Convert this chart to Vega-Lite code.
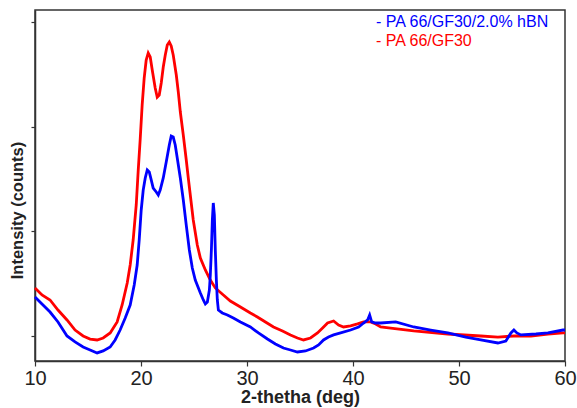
{
  "$schema": "https://vega.github.io/schema/vega-lite/v6.json",
  "autosize": "none",
  "width": 530,
  "height": 351,
  "padding": {"left": 35, "top": 10, "right": 12, "bottom": 47},
  "background": "white",
  "config": {
    "font": "Liberation Sans",
    "view": {"stroke": "#333", "strokeWidth": 1.5},
    "axis": {"grid": false, "domainColor": "#333", "domainWidth": 1.5, "tickColor": "#333", "tickWidth": 1.2, "labelColor": "#222", "titleColor": "#222"}
  },
  "datasets": {
    "red": [
      {"theta": 10.00, "counts": 1459}, {"theta": 10.66, "counts": 1392}, {"theta": 11.42, "counts": 1344}, {"theta": 12.17, "counts": 1248},
      {"theta": 13.02, "counts": 1153}, {"theta": 13.78, "counts": 1057}, {"theta": 14.54, "counts": 1000}, {"theta": 15.20, "counts": 971},
      {"theta": 15.86, "counts": 962}, {"theta": 16.43, "counts": 981}, {"theta": 17.09, "counts": 1029}, {"theta": 17.75, "counts": 1134},
      {"theta": 18.22, "counts": 1296}, {"theta": 18.70, "counts": 1506}, {"theta": 18.98, "counts": 1678}, {"theta": 19.26, "counts": 1917},
      {"theta": 19.55, "counts": 2252}, {"theta": 19.74, "counts": 2586}, {"theta": 19.92, "counts": 2873}, {"theta": 20.11, "counts": 3207},
      {"theta": 20.30, "counts": 3465}, {"theta": 20.49, "counts": 3637}, {"theta": 20.68, "counts": 3704}, {"theta": 20.87, "counts": 3666},
      {"theta": 21.06, "counts": 3541}, {"theta": 21.34, "counts": 3369}, {"theta": 21.53, "counts": 3283}, {"theta": 21.72, "counts": 3303},
      {"theta": 21.91, "counts": 3417}, {"theta": 22.10, "counts": 3570}, {"theta": 22.29, "counts": 3685}, {"theta": 22.48, "counts": 3780},
      {"theta": 22.67, "counts": 3809}, {"theta": 22.85, "counts": 3771}, {"theta": 23.04, "counts": 3685}, {"theta": 23.33, "counts": 3494},
      {"theta": 23.52, "counts": 3331}, {"theta": 23.71, "counts": 3140}, {"theta": 23.99, "counts": 2920}, {"theta": 24.27, "counts": 2682},
      {"theta": 24.46, "counts": 2510}, {"theta": 24.65, "counts": 2347}, {"theta": 24.93, "counts": 2108}, {"theta": 25.31, "counts": 1869},
      {"theta": 25.60, "counts": 1745}, {"theta": 26.07, "counts": 1631}, {"theta": 26.54, "counts": 1535}, {"theta": 27.01, "counts": 1459},
      {"theta": 27.77, "counts": 1392}, {"theta": 28.43, "counts": 1334}, {"theta": 29.38, "counts": 1277}, {"theta": 30.32, "counts": 1220},
      {"theta": 30.98, "counts": 1182}, {"theta": 31.74, "counts": 1134}, {"theta": 32.50, "counts": 1086}, {"theta": 33.35, "counts": 1048},
      {"theta": 34.10, "counts": 1010}, {"theta": 34.76, "counts": 981}, {"theta": 35.33, "counts": 962}, {"theta": 35.99, "counts": 981},
      {"theta": 36.65, "counts": 1029}, {"theta": 37.13, "counts": 1076}, {"theta": 37.60, "counts": 1124}, {"theta": 38.17, "counts": 1143},
      {"theta": 38.64, "counts": 1105}, {"theta": 39.11, "counts": 1086}, {"theta": 39.77, "counts": 1096}, {"theta": 40.43, "counts": 1115},
      {"theta": 41.00, "counts": 1134}, {"theta": 41.66, "counts": 1134}, {"theta": 42.14, "counts": 1115}, {"theta": 42.61, "counts": 1086},
      {"theta": 43.55, "counts": 1076}, {"theta": 45.73, "counts": 1048}, {"theta": 48.94, "counts": 1019}, {"theta": 52.06, "counts": 1000},
      {"theta": 53.67, "counts": 990}, {"theta": 55.18, "counts": 1000}, {"theta": 56.79, "counts": 1000}, {"theta": 58.39, "counts": 1019},
      {"theta": 59.81, "counts": 1029}, {"theta": 60.00, "counts": 1029}
    ],
    "blue": [
      {"theta": 10.00, "counts": 1373}, {"theta": 10.66, "counts": 1306}, {"theta": 11.42, "counts": 1229}, {"theta": 12.17, "counts": 1134},
      {"theta": 13.02, "counts": 1000}, {"theta": 13.78, "counts": 943}, {"theta": 14.54, "counts": 895}, {"theta": 15.20, "counts": 866},
      {"theta": 15.86, "counts": 838}, {"theta": 16.43, "counts": 857}, {"theta": 17.09, "counts": 895}, {"theta": 17.56, "counts": 962},
      {"theta": 18.03, "counts": 1057}, {"theta": 18.51, "counts": 1172}, {"theta": 18.98, "counts": 1296}, {"theta": 19.36, "counts": 1487},
      {"theta": 19.64, "counts": 1678}, {"theta": 19.83, "counts": 1917}, {"theta": 20.02, "counts": 2204}, {"theta": 20.21, "counts": 2395},
      {"theta": 20.40, "counts": 2510}, {"theta": 20.59, "counts": 2586}, {"theta": 20.78, "counts": 2567}, {"theta": 20.97, "counts": 2490},
      {"theta": 21.15, "counts": 2414}, {"theta": 21.44, "counts": 2376}, {"theta": 21.63, "counts": 2347}, {"theta": 21.81, "counts": 2395},
      {"theta": 22.10, "counts": 2510}, {"theta": 22.38, "counts": 2662}, {"theta": 22.67, "counts": 2825}, {"theta": 22.85, "counts": 2911},
      {"theta": 23.04, "counts": 2901}, {"theta": 23.23, "counts": 2825}, {"theta": 23.42, "counts": 2701}, {"theta": 23.71, "counts": 2510},
      {"theta": 23.99, "counts": 2299}, {"theta": 24.27, "counts": 2060}, {"theta": 24.56, "counts": 1822}, {"theta": 24.84, "counts": 1650},
      {"theta": 25.12, "counts": 1535}, {"theta": 25.60, "counts": 1411}, {"theta": 25.88, "counts": 1344}, {"theta": 26.07, "counts": 1306},
      {"theta": 26.26, "counts": 1325}, {"theta": 26.45, "counts": 1439}, {"theta": 26.54, "counts": 1583}, {"theta": 26.64, "counts": 1822},
      {"theta": 26.73, "counts": 2108}, {"theta": 26.82, "counts": 2271}, {"theta": 26.92, "counts": 2156}, {"theta": 27.01, "counts": 1822},
      {"theta": 27.11, "counts": 1535}, {"theta": 27.20, "counts": 1344}, {"theta": 27.30, "counts": 1248}, {"theta": 27.67, "counts": 1220},
      {"theta": 28.15, "counts": 1201}, {"theta": 28.71, "counts": 1172}, {"theta": 29.38, "counts": 1134}, {"theta": 30.32, "counts": 1086},
      {"theta": 31.08, "counts": 1029}, {"theta": 31.93, "counts": 971}, {"theta": 32.68, "counts": 924}, {"theta": 33.44, "counts": 885},
      {"theta": 34.10, "counts": 866}, {"theta": 34.76, "counts": 847}, {"theta": 35.52, "counts": 857}, {"theta": 36.28, "counts": 885},
      {"theta": 36.75, "counts": 914}, {"theta": 37.22, "counts": 962}, {"theta": 37.69, "counts": 990}, {"theta": 38.17, "counts": 1010},
      {"theta": 38.83, "counts": 1029}, {"theta": 39.77, "counts": 1057}, {"theta": 40.53, "counts": 1086}, {"theta": 41.00, "counts": 1124},
      {"theta": 41.38, "counts": 1153}, {"theta": 41.57, "counts": 1201}, {"theta": 41.76, "counts": 1134}, {"theta": 42.14, "counts": 1124},
      {"theta": 42.61, "counts": 1124}, {"theta": 44.03, "counts": 1134}, {"theta": 45.73, "counts": 1086}, {"theta": 47.33, "counts": 1057},
      {"theta": 48.94, "counts": 1029}, {"theta": 50.64, "counts": 990}, {"theta": 52.06, "counts": 962}, {"theta": 53.67, "counts": 933},
      {"theta": 54.42, "counts": 952}, {"theta": 54.90, "counts": 1029}, {"theta": 55.18, "counts": 1057}, {"theta": 55.46, "counts": 1029},
      {"theta": 55.84, "counts": 1010}, {"theta": 57.26, "counts": 1019}, {"theta": 58.39, "counts": 1029}, {"theta": 59.81, "counts": 1057},
      {"theta": 60.00, "counts": 1057}
    ]
  },
  "encoding": {
    "x": {
      "field": "theta", "type": "quantitative",
      "scale": {"domain": [10, 60], "nice": false, "zero": false},
      "axis": {"values": [10, 20, 30, 40, 50, 60], "title": "2-thetha (deg)", "titleFontSize": 18, "titleFontWeight": "bold", "titlePadding": 0, "labelFontSize": 20, "labelFontWeight": "normal", "tickSize": 5, "labelPadding": 2, "labelFlush": false}
    },
    "y": {
      "field": "counts", "type": "quantitative",
      "scale": {"domain": [761, 4115], "nice": false, "zero": false},
      "axis": {"values": [1000, 2000, 3000, 4000], "labels": false, "title": "Intensity (counts)", "titleFontSize": 16.5, "titleFontWeight": "bold", "tickSize": 4, "titlePadding": 5, "titleY": 200}
    },
    "color": {
      "field": "series", "type": "nominal",
      "scale": {"domain": ["PA 66/GF30/2.0% hBN", "PA 66/GF30"], "range": ["#0000ff", "#ff0000"]},
      "legend": {
        "title": null, "orient": "none", "legendX": 325, "legendY": 4, "padding": 0,
        "symbolOpacity": 0, "symbolSize": 0, "symbolStrokeWidth": 0, "labelOffset": 0,
        "labelFontSize": 16, "labelLimit": 0, "rowPadding": 3,
        "labelExpr": "'- ' + datum.label",
        "encode": {"labels": {"update": {"fill": {"scale": "color", "field": "value"}}}}
      }
    }
  },
  "layer": [
    {
      "data": {"name": "red"},
      "transform": [{"calculate": "'PA 66/GF30'", "as": "series"}],
      "mark": {"type": "line", "strokeWidth": 2.8, "interpolate": "linear"}
    },
    {
      "data": {"name": "blue"},
      "transform": [{"calculate": "'PA 66/GF30/2.0% hBN'", "as": "series"}],
      "mark": {"type": "line", "strokeWidth": 2.8, "interpolate": "linear"}
    }
  ]
}
